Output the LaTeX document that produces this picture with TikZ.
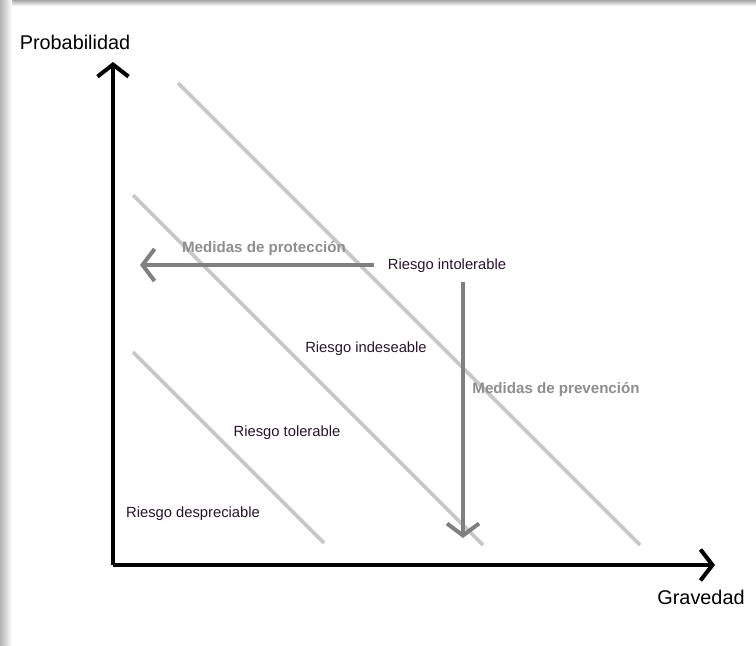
\documentclass[tikz,border=0pt]{standalone}
\usepackage{fontspec}
\setmainfont{Liberation Sans}
\usetikzlibrary{arrows.meta, positioning}
\definecolor{axisblack}{HTML}{000000}
\definecolor{zoneline}{HTML}{C8C8C8}
\definecolor{measuregray}{HTML}{808080}
\definecolor{measuretext}{HTML}{8E8E8E}
\definecolor{textdark}{HTML}{2A1330}
\tikzset{
  axis/.style={-{Straight Barb[length=0.24cm, width=0.62cm]}, line width=2.3pt, axisblack},
  measure/.style={-{Straight Barb[length=0.24cm, width=0.64cm]}, line width=2.3pt, measuregray},
  zone/.style={line width=2.2pt, zoneline},
  risklabel/.style={inner sep=0pt, font=\fontsize{8.4}{10}\selectfont, text=textdark},
  measurelabel/.style={inner sep=0pt, font=\fontsize{8.6}{10}\selectfont\bfseries, text=measuretext},
}

\begin{document}
\begin{tikzpicture}[x=0.02cm, y=-0.02cm,
    axislabel/.style={inner sep=0pt, font=\fontsize{11.3}{13}\selectfont, text=black}]

  % Frame with shadow on top and left
  \useasboundingbox (0,0) rectangle (756,645);
  \fill[white] (0,0) rectangle (756,645);
  \shade[top color=gray!70, bottom color=white] (0,0) rectangle (756,6);
  \shade[left color=gray!60, right color=white] (0,0) rectangle (12,645);

  % Axes
  \coordinate (O) at (113,565);
  \coordinate (Ytop) at (113,62);
  \coordinate (Xend) at (715,565);
  \draw[axis] (O) -- (Ytop);
  \draw[axis] (O) -- (Xend);
  \node[axislabel] (prob) at (75,42) {Probabilidad};
  \node[axislabel] (grav) at (701,597) {Gravedad};

  % Zone borders
  \foreach \xa/\ya/\xb/\yb in {178/83/640/545, 133/195/483/545, 133/352/324/543} {
    \draw[zone] (\xa,\ya) -- (\xb,\yb);
  }

  % Zone labels
  \node[risklabel] (intol) at (447,266) {Riesgo intolerable};
  \node[risklabel] (indes) at (366,349) {Riesgo indeseable};
  \node[risklabel] (toler) at (287,433) {Riesgo tolerable};
  \node[risklabel] (despr) at (193,514) {Riesgo despreciable};

  % Measures
  \coordinate (protEnd) at (140,265);
  \coordinate (prevStart) at (463,282);
  \coordinate (prevEnd) at (463,538);
  \draw[measure] ([xshift=-8]intol.west |- protEnd) -- (protEnd);
  \draw[measure] (prevStart) -- (prevEnd);
  \node[measurelabel] (prot) at (264,249) {Medidas de protección};
  \node[measurelabel] (prev) at (556,390) {Medidas de prevención};
\end{tikzpicture}
\end{document}
